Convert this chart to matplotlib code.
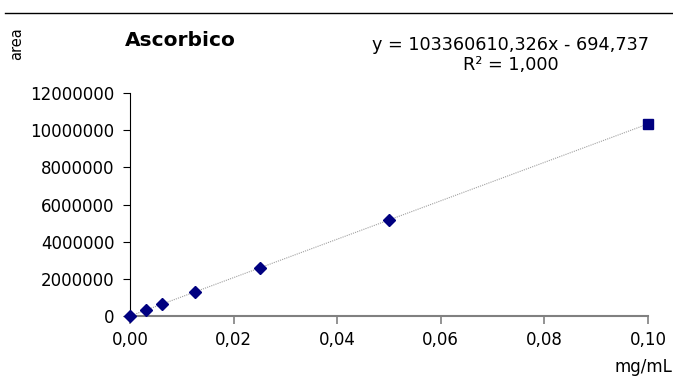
import numpy as np
from matplotlib import pyplot as plt
from matplotlib.lines import Line2D
from matplotlib.ticker import FuncFormatter

plt.rcParams.update({
  "font.family": ['DejaVu Sans'],
  "font.size": 12,
})

# standard curve: concentration (mg/mL) vs peak area
conc = [0.0, 0.003125, 0.00625, 0.0125, 0.025, 0.05]
area = [0, 330000, 640000, 1290000, 2580000, 5180000]
conc_hi = [0.1]
area_hi = [10335000]

slope = 103360610.326
intercept = -694.737

fig01 = plt.figure(num=1, figsize=(6.73, 3.76), dpi=100)
ax01 = fig01.add_axes([130/673, 60/376, 518/673, 223/376])

xs = np.array([0.0, 0.1])
ax01.plot(xs, slope*xs + intercept, ls=(0, (1, 1)), lw=0.8, color='#a0a0a0', zorder=1)
ax01.plot(conc, area, marker='D', ms=6, ls='None', color='#000080', zorder=3, clip_on=False)
ax01.plot(conc_hi, area_hi, marker='s', ms=7, ls='None', color='#000080', zorder=3, clip_on=False)

ax01.set_xlim(0, 0.1)
ax01.set_ylim(0, 12000000)
ax01.set_xticks(np.arange(0, 0.101, 0.02))
ax01.set_yticks(np.arange(0, 12000001, 2000000))
ax01.xaxis.set_major_formatter(FuncFormatter(lambda v, p: f"{v:.2f}".replace('.', ',')))
ax01.yaxis.set_major_formatter(FuncFormatter(lambda v, p: f"{int(round(v))}"))

for s in ('top', 'right'):
    ax01.spines[s].set_visible(False)
ax01.spines['left'].set_color('black')
ax01.spines['bottom'].set_color('#808080')
ax01.spines['bottom'].set_linewidth(1.5)
ax01.tick_params(axis='y', direction='out', length=5, pad=6, labelsize=12)
ax01.tick_params(axis='x', direction='out', length=6, color='#808080', width=1.2, pad=5, labelsize=12)

fig01.text(125/673, 1 - 40/376, "Ascorbico", fontsize=14.5, fontweight='bold', va='center', ha='left')
fig01.text(511/673, 1 - 45/376, "y = 103360610,326x - 694,737", fontsize=12.7, va='center', ha='center')
fig01.text(511/673, 1 - 65/376, "R² = 1,000", fontsize=12.7, va='center', ha='center')
fig01.text(17/673, 1 - 44/376, "area", fontsize=10.5, rotation=90, va='center', ha='center')
fig01.text(672/673, 1 - 367/376, "mg/mL", fontsize=12, va='center', ha='right')

fig01.add_artist(Line2D([5/673, 1], [1 - 13/376, 1 - 13/376], color='black', lw=1, transform=fig01.transFigure))

fig01.savefig('out.png', dpi=100)
